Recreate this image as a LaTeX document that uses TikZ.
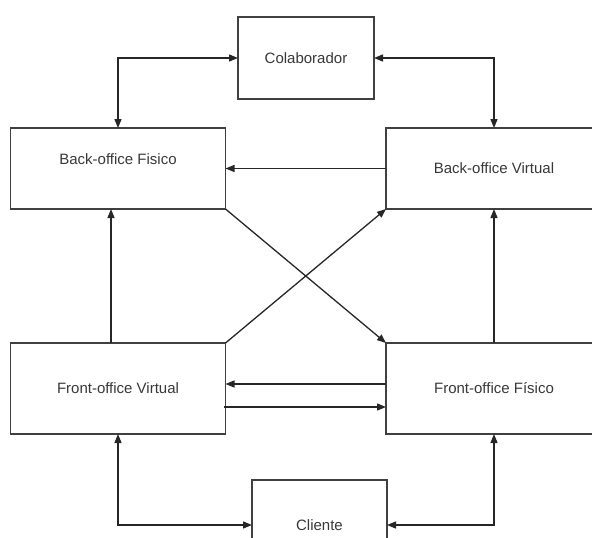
\documentclass[tikz,border=0pt]{standalone}
\usepackage{fontspec}
\setmainfont{Liberation Sans}
\usepackage{tikz}
\usetikzlibrary{arrows.meta, positioning}

\tikzset{
    office/.style={draw=black!75, line width=1.2pt, text=black!78, font=\fontsize{15}{18}\selectfont,
                   inner sep=0pt, outer sep=0pt},
    flow/.style={draw=black!85, line width=1.3pt, -{Triangle[length=9pt,width=7pt]}},
    bothflow/.style={draw=black!85, line width=1.3pt, {Triangle[length=9pt,width=7pt]}-{Triangle[length=9pt,width=7pt]}}
}

\begin{document}
\begin{tikzpicture}[x=1pt, y=-1pt]
    \clip (0,0) rectangle (592,538);

    % Draw the boxes
    \node[office, minimum width=136pt, minimum height=82pt] (colab) at (306,58) {Colaborador};
    \node[office, minimum width=215pt, minimum height=81pt, text depth=19pt] (bof) at (118,168.5) {Back-office Fisico};
    \node[office, minimum width=216pt, minimum height=81pt] (bov) at (494,168.5) {Back-office Virtual};
    \node[office, minimum width=215pt, minimum height=91pt] (fov) at (118,388.5) {Front-office Virtual};
    \node[office, minimum width=216pt, minimum height=91pt] (fof) at (494,388.5) {Front-office Físico};
    \node[office, minimum width=135pt, minimum height=90pt] (cli) at (319.5,525) {Cliente};

    % Column of the left vertical link
    \coordinate (lx) at (111,0);

    % Colaborador to the back-office
    \draw[bothflow] (colab.west) -| (bof.north);
    \draw[bothflow] (colab.east) -| (bov.north);

    % Back-office links
    \draw[flow] (bov.west) -- (bof.east);
    \draw[flow] (fov.north -| lx) -- (bof.south -| lx);
    \draw[flow] (fof.north) -- (bov.south);

    % Crossing links
    \draw[flow] (bof.south east) -- (fof.north west);
    \draw[flow] (fov.north east) -- (bov.south west);

    % Front-office links
    \draw[flow] ([yshift=4.5pt]fof.west) -- ([yshift=4.5pt]fov.east);
    \draw[flow] ([xshift=-2pt,yshift=-18.5pt]fov.east) -- ([yshift=-18.5pt]fof.west);

    % Cliente to the front-office
    \draw[bothflow] (fov.south) |- (cli.west);
    \draw[bothflow] (fof.south) |- (cli.east);
\end{tikzpicture}
\end{document}
